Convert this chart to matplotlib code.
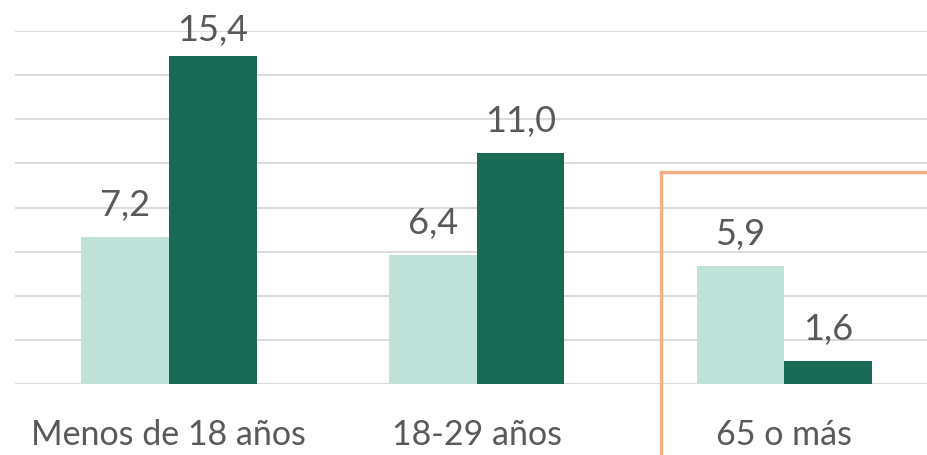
import numpy as np
import matplotlib

matplotlib.use("Agg")
import matplotlib.pyplot as plt
from matplotlib.lines import Line2D

# ---------------------------------------------------------------------------
# Data
# ---------------------------------------------------------------------------
categories = ["Menos de 18 años", "18-29 años", "65 o más"]
serie_a = [7.2, 6.4, 5.9]     # light bars
serie_b = [15.4, 11.0, 1.6]   # dark bars

LIGHT = "#bfe3d9"
DARK = "#186a55"
GRID = "#d9d9d9"
TEXT = "#595959"
ORANGE = "#f3b183"

plt.rcParams["font.family"] = ["Lato", "DejaVu Sans"]

Y0 = 0.55          # axis floor (bars start below the visible baseline)
STEP = 2.0

fig = plt.figure(figsize=(9.28, 4.55), dpi=100)
# axis from x=15px to right edge, y from baseline 384px up to 30px
ax = fig.add_axes([15 / 928, (455 - 384.3) / 455, 913 / 928, (384.3 - 30.7) / 455])

x = np.arange(len(categories))
w = 0.285
ax.bar(x - w / 2, serie_a, width=w, color=LIGHT, zorder=2)
ax.bar(x + w / 2, serie_b, width=w, color=DARK, zorder=2)

ax.set_xlim(-0.5, -0.5 + 913 / 307.7)
ax.set_ylim(Y0, Y0 + 8 * STEP)
ax.set_yticks(Y0 + STEP * np.arange(9))
ax.grid(axis="y", color=GRID, linewidth=1.3, zorder=0)
ax.tick_params(left=False, bottom=False, labelleft=False, labelbottom=False)
for s in ax.spines.values():
    s.set_visible(False)
ax.set_axisbelow(True)

def fmt(v):
    return f"{v:.1f}".replace(".", ",")

top_cap = Y0 + 15.55
for xi, v in zip(x - w / 2, serie_a):
    ax.text(xi, min(v + 0.95, top_cap), fmt(v), ha="center", va="baseline",
            fontsize=26, color=TEXT, clip_on=False)
for xi, v in zip(x + w / 2, serie_b):
    ax.text(xi, min(v + 0.95, top_cap), fmt(v), ha="center", va="baseline",
            fontsize=26, color=TEXT, clip_on=False)

for xi, c in zip(x, categories):
    ax.text(xi, Y0 - 2.75, c, ha="center", va="baseline",
            fontsize=24.5, color=TEXT, clip_on=False)

# orange highlight frame around the last group
fx = 660.7 / 928
fy = 1 - 171.7 / 455
fig.add_artist(Line2D([fx, fx], [0, fy], color=ORANGE, linewidth=2.4,
                      transform=fig.transFigure))
fig.add_artist(Line2D([fx, 1.0], [fy, fy], color=ORANGE, linewidth=2.4,
                      transform=fig.transFigure))

fig.savefig("out.png", dpi=100)
